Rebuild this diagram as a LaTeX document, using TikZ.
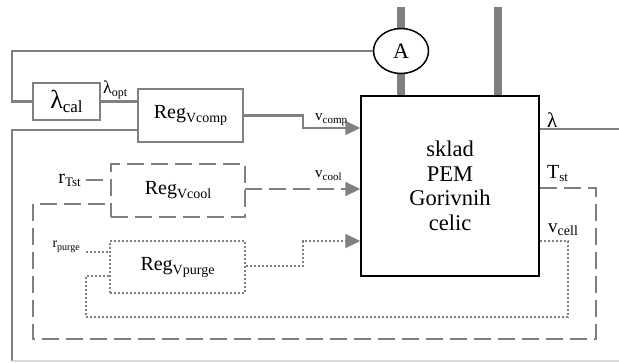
\documentclass[tikz,border=0pt]{standalone}
\usepackage{fontspec}
\setmainfont{Liberation Serif}
\usetikzlibrary{arrows.meta,shapes.geometric}
\definecolor{lg}{HTML}{808080}
\definecolor{llg}{HTML}{D9D9D9}
\newcommand{\fsz}[1]{\fontsize{#1}{#1}\selectfont}
\newcommand{\lo}[3]{\raisebox{-#1pt}{\fsz{#2}#3}}
\begin{document}
\begin{tikzpicture}[x=1pt,y=-1pt,
  conn/.style={draw=lg, line width=2.2pt},
  gbox/.style={draw=lg, line width=2.2pt, inner sep=0pt, fill=white},
  dsh/.style={dash pattern=on 17pt off 7pt},
  dtt/.style={dash pattern=on 2pt off 2pt},
  arr/.style={-{Triangle[length=15pt,width=14pt]}},
  thick bar/.style={draw=lg, line width=8pt},
  lbl/.style={inner sep=0pt}]
\useasboundingbox (0,0) rectangle (619,362);
% thick bars
\coordinate (b1) at (401,7);
\coordinate (b2) at (498,7);
% main block
\node[draw=black, line width=1.5pt, minimum width=178pt, minimum height=180pt, inner sep=0pt,
  align=center, font=\fontsize{22.5}{24.5}\selectfont] (main) at (450,186) {sklad\\PEM\\Gorivnih\\celic};
\draw[thick bar] (b1) -- (b1 |- main.north);
\draw[thick bar] (b2) -- (b2 |- main.north);
\node[ellipse, draw=black, line width=1.5pt, fill=white, minimum width=55pt, minimum height=45pt, inner sep=0pt,
  font=\fsz{22}] (A) at (401,51) {A};
% blocks
\node[gbox, minimum width=67pt, minimum height=37pt] (lcal) at (66.5,101.5) {\fsz{26}λ\lo{4}{17}{cal}};
\node[gbox, minimum width=105pt, minimum height=53pt] (vcomp) at (190.5,115.5) {\fsz{20}Reg\lo{4}{14}{Vcomp}};
\node[gbox, dsh, minimum width=134pt, minimum height=53pt] (vcool) at (178,190.5) {\fsz{20}Reg\lo{4}{14}{Vcool}};
\node[gbox, dtt, minimum width=135pt, minimum height=52pt] (vpurge) at (177.5,267) {\fsz{20}Reg\lo{4}{14}{Vpurge}};
% coordinates
\coordinate (t1) at (12,51);
\coordinate (t2) at (12,101.5);
\coordinate (f1) at (12,130);
\coordinate (f2) at (12,361);
\coordinate (f3) at (619,361);
\coordinate (c1) at (303,115.5);
\coordinate (c2) at (303,128);
\coordinate (lout) at (619,129);
\coordinate (k1) at (245,189);
\coordinate (rt1) at (86,180);
\coordinate (s1) at (596,188);
\coordinate (s2) at (596,339);
\coordinate (s3) at (33,339);
\coordinate (s4) at (33,204);
\coordinate (rp1) at (86,252);
\coordinate (p1) at (303,266);
\coordinate (p2) at (303,241);
\coordinate (e1) at (568,241);
\coordinate (e2) at (568,317);
\coordinate (e3) at (86,317);
\coordinate (e4) at (86,276);
% connectors
\draw[conn] (A.west) -- (t1) -- (t2) -- (lcal.west);
\draw[conn] (lcal.east) -- (lcal.east -| vcomp.west);
\draw[conn] (f1 -| vcomp.west) -- (f1) -- (f2);
\draw[draw=llg, line width=2pt] (f2) -- (f3);
\draw[conn, arr] (vcomp.east) -- (c1) -- (c2) -- (c2 -| main.west);
\draw[conn] (main.east |- lout) -- (lout);
\draw[conn, dsh, arr] (k1) -- (k1 -| main.west);
\draw[conn, dsh] (rt1) -- (rt1 -| vcool.west);
\draw[conn, dsh] (main.east |- s1) -- (s1) -- (s2) -- (s3) -- (s4) -- (s4 -| vcool.west);
\draw[conn, dtt] (rp1) -- (rp1 -| vpurge.west);
\draw[conn, dtt, arr] (p1 -| vpurge.east) -- (p1) -- (p2) -- (p2 -| main.west);
\draw[conn, dtt] (main.east |- e1) -- (e1) -- (e2) -- (e3) -- (e4) -- (e4 -| vpurge.west);
% labels
\node[lbl, anchor=base west] (lopt) at (103,93) {\fsz{18}λ\lo{3}{12}{opt}};
\node[lbl, anchor=base west] (lvcomp) at (315,120) {\fsz{15}v\lo{3}{11}{comp}};
\node[lbl, anchor=base west] (lvcool) at (315,177) {\fsz{15}v\lo{3}{11}{cool}};
\node[lbl, anchor=base east] (lrtst) at (81,183) {\fsz{20}r\lo{3}{13}{Tst}};
\node[lbl, anchor=base east] (lrpurge) at (80,247) {\fsz{14}r\lo{3}{10}{purge}};
\node[lbl, anchor=base west] (llam) at (547,127) {\fsz{21}λ};
\node[lbl, anchor=base west] (ltst) at (547,178) {\fsz{20}T\lo{3}{13}{st}};
\node[lbl, anchor=base west] (lvcell) at (548,232) {\fsz{19}v\lo{3}{14}{cell}};
\end{tikzpicture}
\end{document}
